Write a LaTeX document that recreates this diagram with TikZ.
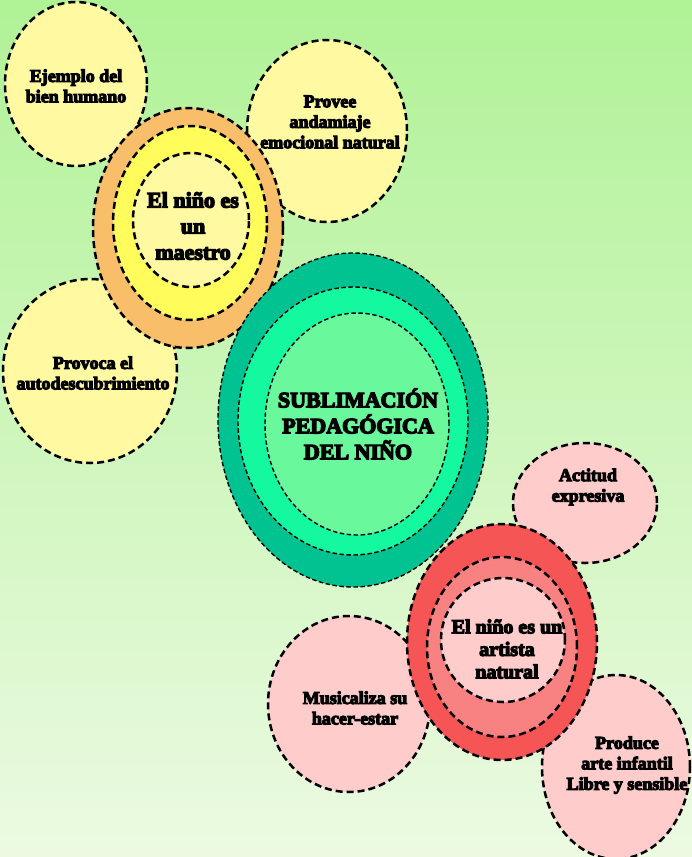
\documentclass[tikz,border=0pt]{standalone}
\usepackage{fontspec}
\setmainfont{Liberation Serif}
\newfontfamily\heavy{Liberation Serif Bold}[FakeBold=6]
\usetikzlibrary{shapes.geometric}

\definecolor{bgtop}{RGB}{176,242,150}
\definecolor{bgbot}{RGB}{236,250,226}
\definecolor{yelpale}{RGB}{255,250,162}
\definecolor{yelmid}{RGB}{255,252,92}
\definecolor{orng}{RGB}{248,190,105}
\definecolor{tealdk}{RGB}{0,195,145}
\definecolor{tealmd}{RGB}{20,248,160}
\definecolor{teallt}{RGB}{105,248,155}
\definecolor{reddk}{RGB}{245,85,85}
\definecolor{redmd}{RGB}{248,130,130}
\definecolor{pinklt}{RGB}{255,204,204}

\tikzset{
  blob/.style={ellipse, draw, line width=2.5pt, dash pattern=on 7pt off 4pt, inner sep=0pt},
  fineblob/.style={ellipse, draw, line width=1.4pt, dash pattern=on 4.5pt off 2.5pt, inner sep=0pt},
  small/.style={align=center, font=\heavy\fontsize{18}{20.5}\selectfont},
  big/.style={align=center, font=\heavy\fontsize{22}{26}\selectfont},
}

\begin{document}
\begin{tikzpicture}[x=1pt,y=-1pt]
\useasboundingbox (0,0) rectangle (692,857);
\shade[top color=bgtop, bottom color=bgbot] (0,0) rectangle (692,857);

% satellites of the maestro ring
\node[blob, fill=yelpale, minimum width=142pt, minimum height=164pt] (ejemplo) at (76,84) {};
\node[blob, fill=yelpale, minimum width=160pt, minimum height=182pt] (provee) at (327,131) {};
\node[blob, fill=yelpale, minimum width=174pt, minimum height=184pt] (provoca) at (90,371) {};

% maestro ring
\node[blob, fill=orng, minimum width=190pt, minimum height=240pt] (maestroA) at (188,228) {};
\node[blob, fill=yelmid, minimum width=154pt, minimum height=194pt] (maestroB) at (190,223) {};
\node[blob, fill=yelpale, minimum width=116pt, minimum height=134pt] (maestroC) at (191,220) {};

% centre
\node[fineblob, fill=tealdk, minimum width=270pt, minimum height=334pt] (centroA) at (353,420) {};
\node[fineblob, fill=tealmd, minimum width=230pt, minimum height=268pt] (centroB) at (353,421) {};
\node[fineblob, fill=teallt, minimum width=184pt, minimum height=222pt] (centroC) at (357,424) {};

% satellites of the artista ring
\node[blob, fill=pinklt, minimum width=144pt, minimum height=120pt] (actitud) at (585,503) {};
\node[blob, fill=pinklt, minimum width=162pt, minimum height=176pt] (musica) at (349,704) {};
\node[blob, fill=pinklt, minimum width=148pt, minimum height=184pt] (produce) at (616,767) {};

% artista ring
\node[blob, fill=reddk, minimum width=190pt, minimum height=236pt] (artistaA) at (502,642) {};
\node[blob, fill=redmd, minimum width=150pt, minimum height=180pt] (artistaB) at (502,647) {};
\node[blob, fill=pinklt, minimum width=124pt, minimum height=124pt] (artistaC) at (503,640) {};

% labels
\node[small] (ejemploT) at (76,86) {Ejemplo del\\bien humano};
\node[small] (proveeT) at (330,122) {Provee\\andamiaje\\emocional natural};
\node[small] (provocaT) at (93,373) {Provoca el\\autodescubrimiento};
\node[big] (maestroT) at (193,226) {El niño es\\un\\maestro};
\node[big] (centroT) at (358,424) {SUBLIMACIÓN\\PEDAGÓGICA\\DEL NIÑO};
\node[small] (actitudT) at (588,487) {Actitud\\expresiva};
\node[small] (musicaT) at (355,708) {Musicaliza su\\hacer-estar};
\node[small] (produceT) at (627,765) {Produce\\arte infantil\\Libre y sensible};
\node[align=center, font=\heavy\fontsize{20}{22.5}\selectfont] (artistaT) at (507,649) {El niño es un\\artista\\natural};
\end{tikzpicture}
\end{document}
